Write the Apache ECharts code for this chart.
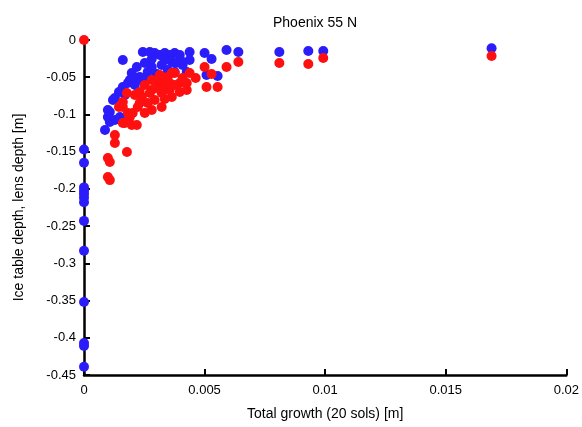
<!DOCTYPE html>
<html>
<head>
<meta charset="utf-8">
<script src="https://cdn.jsdelivr.net/npm/echarts@6/dist/echarts.min.js"></script>
<style>
html, body { margin: 0; padding: 0; background: #fff; }
#chart { width: 582px; height: 427px; }
</style>
</head>
<body>
<div id="chart"></div>
<script>
// Phoenix 55 N - ice table depth vs total growth
var xTicks = [0, 0.005, 0.01, 0.015, 0.02];
var yTicks = [0, -0.05, -0.1, -0.15, -0.2, -0.25, -0.3, -0.35, -0.4, -0.45];

// blue: ice table depth
var bluePoints = [
    [0, -0.147], [0, -0.165], [0, -0.198], [0, -0.203], [0, -0.207], [0, -0.212],
    [0, -0.218], [0, -0.243], [0, -0.283], [0, -0.352], [0, -0.407], [0, -0.411], [0, -0.439],
    [0.00244, -0.0161], [0.00273, -0.0161], [0.00293, -0.0175], [0.00314, -0.0202],
    [0.00335, -0.0175], [0.00355, -0.0202], [0.00376, -0.0175], [0.00397, -0.0202],
    [0.00438, -0.0161], [0.00438, -0.0269], [0.005, -0.0175], [0.00529, -0.0255],
    [0.00591, -0.0134], [0.0064, -0.0161], [0.0081, -0.0161], [0.0093, -0.0148],
    [0.00992, -0.0148], [0.0169, -0.011],
    [0.00161, -0.0269], [0.00219, -0.0363], [0.00281, -0.0363], [0.00322, -0.0336],
    [0.00347, -0.0403], [0.00364, -0.0296], [0.00409, -0.0296], [0.00376, -0.043],
    [0.00302, -0.0457], [0.00264, -0.043], [0.00231, -0.0497], [0.00252, -0.0511],
    [0.00223, -0.0511], [0.00426, -0.043], [0.00508, -0.047], [0.00554, -0.0484],
    [0.00182, -0.0578], [0.00161, -0.0632], [0.0019, -0.0538], [0.00128, -0.078],
    [0.00107, -0.0968], [0.00107, -0.1102], [0.00099, -0.1035], [0.00087, -0.121],
    [0.0012, -0.0806], [0.00128, -0.1075], [0.00149, -0.1035], [0.00099, -0.0941],
    [0.00211, -0.0605], [0.0024, -0.0538], [0.00355, -0.0228], [0.00335, -0.0269],
    [0.00381, -0.0309], [0.00409, -0.0336], [0.00281, -0.0255], [0.00252, -0.0309],
    [0.00198, -0.0444], [0.00145, -0.0699], [0.0017, -0.0739]
];

// red: lens depth
var redPoints = [
    [0, 0],
    [0.0081, -0.0309], [0.0093, -0.0323], [0.00992, -0.0242], [0.0169, -0.0215],
    [0.0064, -0.0296], [0.00591, -0.0363], [0.005, -0.0363], [0.00529, -0.0457],
    [0.00508, -0.0632], [0.00554, -0.0632], [0.00438, -0.0444], [0.00426, -0.0672],
    [0.00376, -0.0444], [0.00355, -0.0578], [0.00314, -0.0578], [0.00364, -0.0444],
    [0.00347, -0.0497], [0.00335, -0.0538], [0.00322, -0.0712], [0.00322, -0.09],
    [0.00293, -0.0806], [0.00281, -0.0941], [0.00281, -0.0672], [0.00302, -0.0578],
    [0.00264, -0.0847], [0.00211, -0.0739], [0.0024, -0.0766], [0.00223, -0.09],
    [0.00182, -0.0981], [0.00169, -0.1116], [0.00198, -0.1142], [0.00161, -0.0833],
    [0.00128, -0.1277], [0.00128, -0.1384], [0.00178, -0.1505], [0.00099, -0.1586],
    [0.00107, -0.164], [0.00099, -0.1841], [0.00107, -0.1882], [0.00161, -0.1116],
    [0.0019, -0.1035], [0.00219, -0.1142], [0.00161, -0.09], [0.00231, -0.0847],
    [0.00202, -0.0981], [0.00252, -0.0981], [0.00273, -0.0712], [0.00302, -0.0645],
    [0.00326, -0.0645], [0.00355, -0.0672], [0.00376, -0.0605], [0.00397, -0.0578],
    [0.00409, -0.0511], [0.00335, -0.0793], [0.00364, -0.0766], [0.00397, -0.0699],
    [0.00252, -0.0605], [0.00231, -0.0699], [0.00178, -0.0712], [0.00145, -0.09],
    [0.00314, -0.0471], [0.00281, -0.0538], [0.00463, -0.0511], [0.00426, -0.0578]
];

var myChart = echarts.init(document.getElementById('chart'));

var axisText = { color: '#000', fontSize: 13, fontFamily: 'Liberation Sans, Arial, sans-serif' };

var option = {
    animation: false,
    title: {
        text: 'Phoenix 55 N',
        left: 310,
        top: 11,
        textAlign: 'center',
        textStyle: { color: '#000', fontSize: 14, fontWeight: 'normal', fontFamily: 'Liberation Sans, Arial, sans-serif' }
    },
    grid: {
        left: 84,
        right: 15,
        top: 40,
        bottom: 52
    },
    xAxis: {
        type: 'value',
        min: xTicks[0],
        max: xTicks[xTicks.length - 1],
        interval: 0.005,
        name: 'Total growth (20 sols) [m]',
        nameLocation: 'middle',
        nameGap: 32,
        nameTextStyle: { color: '#000', fontSize: 14, fontFamily: 'Liberation Sans, Arial, sans-serif' },
        axisLine: { show: true, onZero: false, lineStyle: { color: '#000', width: 2.5 } },
        axisTick: { show: true, inside: true, length: 6, lineStyle: { color: '#000', width: 2 } },
        axisLabel: Object.assign({ margin: 9 }, axisText),
        splitLine: { show: false }
    },
    yAxis: {
        type: 'value',
        min: yTicks[yTicks.length - 1],
        max: yTicks[0],
        interval: 0.05,
        name: 'Ice table depth, lens depth [m]',
        nameLocation: 'middle',
        nameGap: 58,
        nameTextStyle: { color: '#000', fontSize: 14, fontFamily: 'Liberation Sans, Arial, sans-serif' },
        axisLine: { show: true, onZero: false, lineStyle: { color: '#000', width: 2.5 } },
        axisTick: { show: true, inside: true, length: 6, lineStyle: { color: '#000', width: 2 } },
        axisLabel: Object.assign({ margin: 8 }, axisText),
        splitLine: { show: false }
    },
    series: [
        {
            name: 'ice table',
            type: 'scatter',
            symbol: 'circle',
            symbolSize: 10,
            clip: false,
            itemStyle: { color: '#2b1dfa', opacity: 1 },
            data: bluePoints
        },
        {
            name: 'lens',
            type: 'scatter',
            symbol: 'circle',
            symbolSize: 10,
            clip: false,
            itemStyle: { color: '#ff1010', opacity: 1 },
            data: redPoints
        }
    ]
};

myChart.setOption(option);
</script>
</body>
</html>
